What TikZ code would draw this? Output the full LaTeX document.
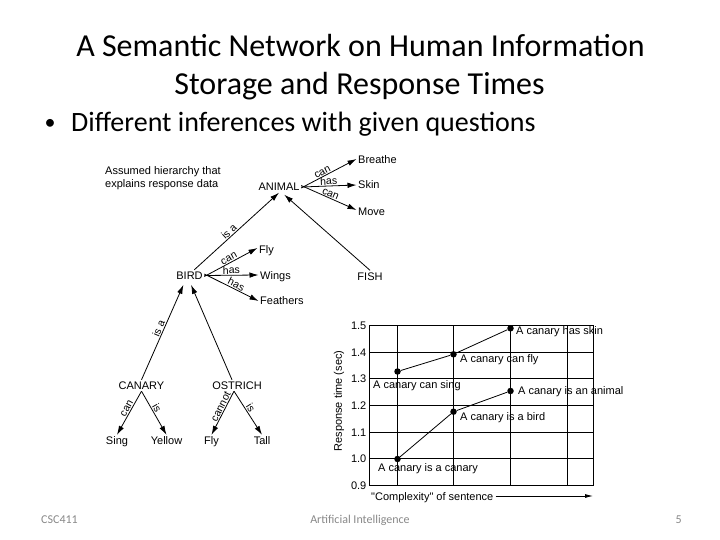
\documentclass[tikz,border=0pt]{standalone}
\usepackage{fontspec}
\setmainfont{Carlito}
\newfontfamily\arialf{Liberation Sans}
\usetikzlibrary{arrows.meta}
\definecolor{footgray}{RGB}{137,137,137}
\begin{document}
\begin{tikzpicture}[x=1pt,y=-1pt,
  lbl/.style={font=\arialf\fontsize{11}{13}\selectfont, inner sep=1.5pt, text height=8pt, text depth=0pt},
  elab/.style={font=\arialf\fontsize{10.5}{12}\selectfont, inner sep=0.8pt, sloped, above},
  arr/.style={line width=0.8pt, -{Latex[length=9pt,width=5.5pt]}},
  gridl/.style={line width=0.8pt},
  dot/.style={circle, fill=black, inner sep=0pt, minimum size=6.5pt},
  tick/.style={font=\arialf\fontsize{11}{13}\selectfont, inner sep=0pt, text height=8pt, text depth=0pt, anchor=east},
  ctext/.style={font=\arialf\fontsize{11}{13}\selectfont, inner sep=0pt, text height=8pt, text depth=0pt, anchor=west},
  foot/.style={font=\fontsize{12}{14}\selectfont, text=footgray, inner sep=0pt}
]
\useasboundingbox[fill=white] (0,0) rectangle (720,540);

% titles
\node[font=\fontsize{32}{38}\selectfont, anchor=base, inner sep=0pt] (t1) at (360.5,57) {A Semantic Network on Human Information};
\node[font=\fontsize{32}{38}\selectfont, anchor=base, inner sep=0pt] (t2) at (359.5,95) {Storage and Response Times};
\node[font=\fontsize{22}{26}\selectfont, anchor=base, inner sep=0pt] (bul) at (50,130) {•};
\node[font=\fontsize{28}{34}\selectfont, anchor=base west, inner sep=0pt] (btext) at (71,132) {Different inferences with given questions};

% hierarchy
\node[font=\arialf\fontsize{11}{13}\selectfont, align=left, anchor=north west, inner sep=0pt] (note) at (105,166.5) {Assumed hierarchy that\\explains response data};

\node[lbl] (animal) at (279,187) {ANIMAL};
\node[lbl, anchor=west] (breathe) at (356.5,160) {Breathe};
\node[lbl, anchor=west] (skin) at (356.5,185) {Skin};
\node[lbl, anchor=west] (move) at (356.5,211) {Move};
\node[lbl] (bird) at (189.5,275.5) {BIRD};
\node[lbl, anchor=west] (fly) at (257.5,249) {Fly};
\node[lbl, anchor=west] (wings) at (258.5,275) {Wings};
\node[lbl, anchor=west] (feathers) at (258.5,300) {Feathers};
\node[lbl] (fish) at (370,276) {FISH};
\node[lbl] (canary) at (141.5,385.5) {CANARY};
\node[lbl] (ostrich) at (237,385.5) {OSTRICH};
\node[lbl] (sing) at (117,440.5) {Sing};
\node[lbl] (yellow) at (166.5,440.5) {Yellow};
\node[lbl] (fly2) at (211.5,440.5) {Fly};
\node[lbl] (tall) at (262,440.5) {Tall};

\draw[arr] ([yshift=-1pt]animal.east) -- node[elab, pos=0.42] {can} ([yshift=1pt]breathe.west);
\draw[arr] (animal.east) -- node[elab, pos=0.5] {has} (skin.west);
\draw[arr] ([yshift=1.5pt]animal.east) -- node[elab, pos=0.5] {can} ([yshift=1pt]move.west);

\draw[arr] (bird.50) -- node[elab, pos=0.45] {is a} (animal.south);
\draw[arr, shorten >=3pt] (fish.north) -- ([xshift=3pt]animal.south);

\draw[arr] ([yshift=-1pt]bird.east) -- node[elab, pos=0.5] {can} ([yshift=1pt]fly.west);
\draw[arr] (bird.east) -- node[elab, pos=0.5] {has} (wings.west);
\draw[arr] ([yshift=1.5pt]bird.east) -- node[elab, pos=0.55] {has} ([yshift=-1pt]feathers.west);

\draw[arr, shorten >=4pt] (canary.north) -- node[elab, pos=0.5] {is a} ([xshift=-4.5pt]bird.south);
\draw[arr, shorten >=4pt] ([xshift=-5pt]ostrich.north) -- (bird.south);

\draw[arr] (canary.south) -- node[elab, pos=0.45] {can} (sing.north);
\draw[arr] (canary.south) -- node[elab, pos=0.45] {is} (yellow.north);
\draw[arr] ([xshift=-3pt]ostrich.south) -- node[elab, pos=0.4] {cannot} (fly2.north);
\draw[arr] ([xshift=-3pt]ostrich.south) -- node[elab, pos=0.45] {is} (tall.north);

% chart grid
\draw[gridl] (369,325.3) rectangle (593,485.5);
\foreach \yy in {352,378.7,405.4,432.1,458.8} \draw[gridl] (369,\yy) -- (593,\yy);
\foreach \xx in {397.3,453.3,510,567.7} \draw[gridl] (\xx,325.3) -- (\xx,485.5);

\node[tick] (y15) at (366.5,325.3) {1.5};
\node[tick] (y14) at (366.5,352) {1.4};
\node[tick] (y13) at (366.5,378.7) {1.3};
\node[tick] (y12) at (366.5,405.4) {1.2};
\node[tick] (y11) at (366.5,432.1) {1.1};
\node[tick] (y10) at (366.5,458.8) {1.0};
\node[tick] (y09) at (366.5,485.5) {0.9};

\node[font=\arialf\fontsize{11}{13}\selectfont, inner sep=0pt, rotate=90] (ylab) at (339,401) {Response time (sec)};

\node[dot] (u1) at (397.5,371.5) {};
\node[dot] (u2) at (453.5,354.3) {};
\node[dot] (u3) at (510.5,328.3) {};
\node[dot] (l1) at (397.5,459) {};
\node[dot] (l2) at (453.5,411.7) {};
\node[dot] (l3) at (510.5,391) {};
\draw[line width=0.8pt] (u1) -- (u2) -- (u3);
\draw[line width=0.8pt] (l1) -- (l2) -- (l3);

\node[ctext] (s1) at (516,330) {A canary has skin};
\node[ctext] (s2) at (460,358.5) {A canary can fly};
\node[ctext] (s3) at (373,384) {A canary can sing};
\node[ctext] (s4) at (518,390) {A canary is an animal};
\node[ctext] (s5) at (460,416) {A canary is a bird};
\node[ctext] (s6) at (378,467) {A canary is a canary};

\node[ctext] (cx) at (371,496) {"Complexity" of sentence};
\coordinate (cxend) at (593,496);
\draw[line width=0.8pt, -{Latex[length=8pt,width=4pt]}] ([xshift=2pt]cx.east) -- (cxend);

% footer
\node[foot, anchor=base west] (f1) at (41,523) {CSC411};
\node[foot, anchor=base] (f2) at (360,523) {Artificial Intelligence};
\node[foot, anchor=base east] (f3) at (682,523) {5};
\end{tikzpicture}
\end{document}
